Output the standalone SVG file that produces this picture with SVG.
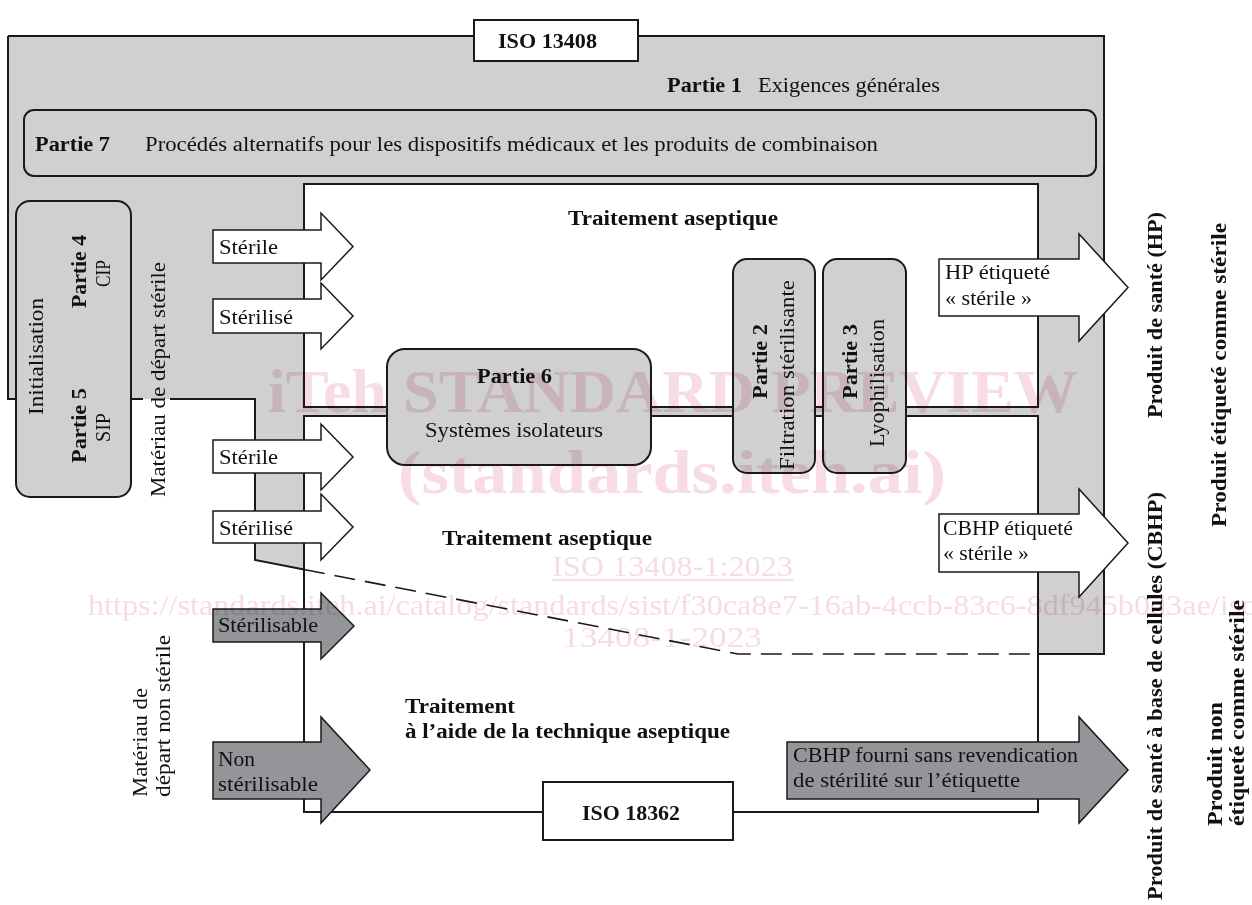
<svg xmlns="http://www.w3.org/2000/svg" width="1252" height="905" viewBox="0 0 1252 905">
<style>
text{font-family:"Liberation Serif","Times New Roman",serif;font-size:20px;fill:#111}
.b{font-weight:bold}
.box{fill:#cfd0cf;stroke:#1a1a1a;stroke-width:2}
.wbox{fill:#fff;stroke:#1a1a1a;stroke-width:2}
.line{fill:none;stroke:#1a1a1a;stroke-width:2}
.dash{fill:none;stroke:#1a1a1a;stroke-width:1.6;stroke-dasharray:21 10}
.aw{fill:#fff;stroke:#1a1a1a;stroke-width:1.5}
.ad{fill:#939598;stroke:#1a1a1a;stroke-width:1.5}
.wm text{font-family:"Liberation Serif","Times New Roman",serif;fill:#f7dce3}
</style>

<g id="background">
<polygon points="8,36 1104,36 1104,654 1038,654 738,654 255,560 255,399 8,399" fill="#cfd0cf"/>
<rect x="304" y="184" width="734" height="223" class="wbox"/>
<rect x="304" y="416" width="734" height="396" class="wbox"/>
</g>

<g id="connectors">
<path class="line" d="M8,36 H1104 V654 H1038"/>
<path class="line" d="M8,36 V399 H143 M170,399 H255 V560 L304,569.5"/>
<path class="dash" d="M304,569.5 L738,654 H1038"/>
</g>

<g id="iso13408">
<rect x="474" y="20" width="164" height="41" class="wbox"/>
<text x="498" y="48" class="b" textLength="99" lengthAdjust="spacingAndGlyphs">ISO 13408</text>
</g>

<g id="partie1">
<text x="667" y="92" class="b" textLength="75" lengthAdjust="spacingAndGlyphs">Partie 1</text>
<text x="758" y="92" textLength="182" lengthAdjust="spacingAndGlyphs">Exigences générales</text>
</g>

<g id="partie7">
<rect x="24" y="110" width="1072" height="66" rx="10" class="box"/>
<text x="35" y="151" class="b" textLength="75" lengthAdjust="spacingAndGlyphs">Partie 7</text>
<text x="145" y="151" textLength="733" lengthAdjust="spacingAndGlyphs">Procédés alternatifs pour les dispositifs médicaux et les produits de combinaison</text>
</g>

<g id="partie45">
<rect x="16" y="201" width="115" height="296" rx="14" class="box"/>
<text transform="translate(43,415) rotate(-90)" textLength="117" lengthAdjust="spacingAndGlyphs">Initialisation</text>
<text transform="translate(86,308) rotate(-90)" class="b" textLength="73" lengthAdjust="spacingAndGlyphs">Partie 4</text>
<text transform="translate(110,287) rotate(-90)" textLength="27" lengthAdjust="spacingAndGlyphs">CIP</text>
<text transform="translate(86,463) rotate(-90)" class="b" textLength="75" lengthAdjust="spacingAndGlyphs">Partie 5</text>
<text transform="translate(110,442) rotate(-90)" textLength="29" lengthAdjust="spacingAndGlyphs">SIP</text>
</g>

<g id="materiau-sterile">
<text transform="translate(165,497) rotate(-90)" textLength="235" lengthAdjust="spacingAndGlyphs">Matériau de départ stérile</text>
</g>

<g id="materiau-non-sterile">
<text transform="translate(147,797) rotate(-90)" textLength="109" lengthAdjust="spacingAndGlyphs">Matériau de</text>
<text transform="translate(170,797) rotate(-90)" textLength="162" lengthAdjust="spacingAndGlyphs">départ non stérile</text>
</g>

<g id="traitement-haut">
<text x="568" y="225" class="b" textLength="210" lengthAdjust="spacingAndGlyphs">Traitement aseptique</text>
</g>

<g id="traitement-milieu">
<text x="442" y="545" class="b" textLength="210" lengthAdjust="spacingAndGlyphs">Traitement aseptique</text>
</g>

<g id="traitement-bas">
<text x="405" y="713" class="b" textLength="110" lengthAdjust="spacingAndGlyphs">Traitement</text>
<text x="405" y="738" class="b" textLength="325" lengthAdjust="spacingAndGlyphs">à l’aide de la technique aseptique</text>
</g>

<g id="partie6">
<rect x="387" y="349" width="264" height="116" rx="18" class="box"/>
<text x="477" y="383" class="b" textLength="75" lengthAdjust="spacingAndGlyphs">Partie 6</text>
<text x="425" y="437" textLength="178" lengthAdjust="spacingAndGlyphs">Systèmes isolateurs</text>
</g>

<g id="partie2">
<rect x="733" y="259" width="82" height="214" rx="14" class="box"/>
<text transform="translate(767,399) rotate(-90)" class="b" textLength="75" lengthAdjust="spacingAndGlyphs">Partie 2</text>
<text transform="translate(794,470) rotate(-90)" textLength="190" lengthAdjust="spacingAndGlyphs">Filtration stérilisante</text>
</g>

<g id="partie3">
<rect x="823" y="259" width="83" height="214" rx="14" class="box"/>
<text transform="translate(857,399) rotate(-90)" class="b" textLength="75" lengthAdjust="spacingAndGlyphs">Partie 3</text>
<text transform="translate(884,447) rotate(-90)" textLength="128" lengthAdjust="spacingAndGlyphs">Lyophilisation</text>
</g>

<g id="iso18362">
<rect x="543" y="782" width="190" height="58" class="wbox"/>
<text x="582" y="820" class="b" textLength="98" lengthAdjust="spacingAndGlyphs">ISO 18362</text>
</g>

<g id="arrow-sterile-1">
<polygon class="aw" points="213,230 321,230 321,213 353,246.5 321,280 321,263 213,263"/>
<text x="219" y="254" textLength="59" lengthAdjust="spacingAndGlyphs">Stérile</text>
</g>
<g id="arrow-sterilise-1">
<polygon class="aw" points="213,299 321,299 321,283 353,316 321,349 321,333 213,333"/>
<text x="219" y="324" textLength="74" lengthAdjust="spacingAndGlyphs">Stérilisé</text>
</g>
<g id="arrow-sterile-2">
<polygon class="aw" points="213,440 321,440 321,424 353,457 321,490 321,473 213,473"/>
<text x="219" y="464" textLength="59" lengthAdjust="spacingAndGlyphs">Stérile</text>
</g>
<g id="arrow-sterilise-2">
<polygon class="aw" points="213,511 321,511 321,494 353,527 321,560 321,543 213,543"/>
<text x="219" y="535" textLength="74" lengthAdjust="spacingAndGlyphs">Stérilisé</text>
</g>
<g id="arrow-sterilisable">
<polygon class="ad" points="213,609 321,609 321,593 354,626 321,659 321,642 213,642"/>
<text x="218" y="632" textLength="100" lengthAdjust="spacingAndGlyphs">Stérilisable</text>
</g>
<g id="arrow-non-sterilisable">
<polygon class="ad" points="213,742 321,742 321,717 370,770 321,823 321,799 213,799"/>
<text x="218" y="766" textLength="37" lengthAdjust="spacingAndGlyphs">Non</text>
<text x="218" y="791" textLength="100" lengthAdjust="spacingAndGlyphs">stérilisable</text>
</g>

<g id="arrow-hp">
<polygon class="aw" points="939,259 1079,259 1079,234 1128,287.5 1079,341 1079,316 939,316"/>
<text x="945" y="279" textLength="105" lengthAdjust="spacingAndGlyphs">HP étiqueté</text>
<text x="945" y="305" textLength="87" lengthAdjust="spacingAndGlyphs">« stérile »</text>
</g>
<g id="arrow-cbhp">
<polygon class="aw" points="939,514 1079,514 1079,489 1128,543 1079,597 1079,572 939,572"/>
<text x="943" y="535" textLength="130" lengthAdjust="spacingAndGlyphs">CBHP étiqueté</text>
<text x="943" y="560" textLength="86" lengthAdjust="spacingAndGlyphs">« stérile »</text>
</g>
<g id="arrow-cbhp-fourni">
<polygon class="ad" points="787,742 1079,742 1079,717 1128,770 1079,823 1079,799 787,799"/>
<text x="793" y="762" textLength="285" lengthAdjust="spacingAndGlyphs">CBHP fourni sans revendication</text>
<text x="793" y="787" textLength="227" lengthAdjust="spacingAndGlyphs">de stérilité sur l’étiquette</text>
</g>

<g id="labels-right">
<text transform="translate(1162,418) rotate(-90)" class="b" textLength="206" lengthAdjust="spacingAndGlyphs">Produit de santé (HP)</text>
<text transform="translate(1226,527) rotate(-90)" class="b" textLength="304" lengthAdjust="spacingAndGlyphs">Produit étiqueté comme stérile</text>
<text transform="translate(1162,900) rotate(-90)" class="b" textLength="408" lengthAdjust="spacingAndGlyphs">Produit de santé à base de cellules (CBHP)</text>
<text transform="translate(1222,826) rotate(-90)" class="b" textLength="124" lengthAdjust="spacingAndGlyphs">Produit non</text>
<text transform="translate(1244,826) rotate(-90)" class="b" textLength="226" lengthAdjust="spacingAndGlyphs">étiqueté comme stérile</text>
</g>

<g id="watermark" class="wm" style="mix-blend-mode:multiply">
<text x="268" y="412" font-weight="bold" textLength="810" lengthAdjust="spacingAndGlyphs" style="font-size:62px">iTeh STANDARD PREVIEW</text>
<text x="398" y="493" font-weight="bold" textLength="548" lengthAdjust="spacingAndGlyphs" style="font-size:62px">(standards.iteh.ai)</text>
<text x="552" y="576" textLength="241" lengthAdjust="spacingAndGlyphs" style="font-size:30px">ISO 13408-1:2023</text>
<rect x="552" y="579" width="241" height="2" fill="#f7dce3"/>
<text x="88" y="615" textLength="1180" lengthAdjust="spacingAndGlyphs" style="font-size:30px">https://standards.iteh.ai/catalog/standards/sist/f30ca8e7-16ab-4ccb-83c6-8df945b0d3ae/iso-</text>
<text x="562" y="647" textLength="200" lengthAdjust="spacingAndGlyphs" style="font-size:30px">13408-1-2023</text>
</g>
</svg>
